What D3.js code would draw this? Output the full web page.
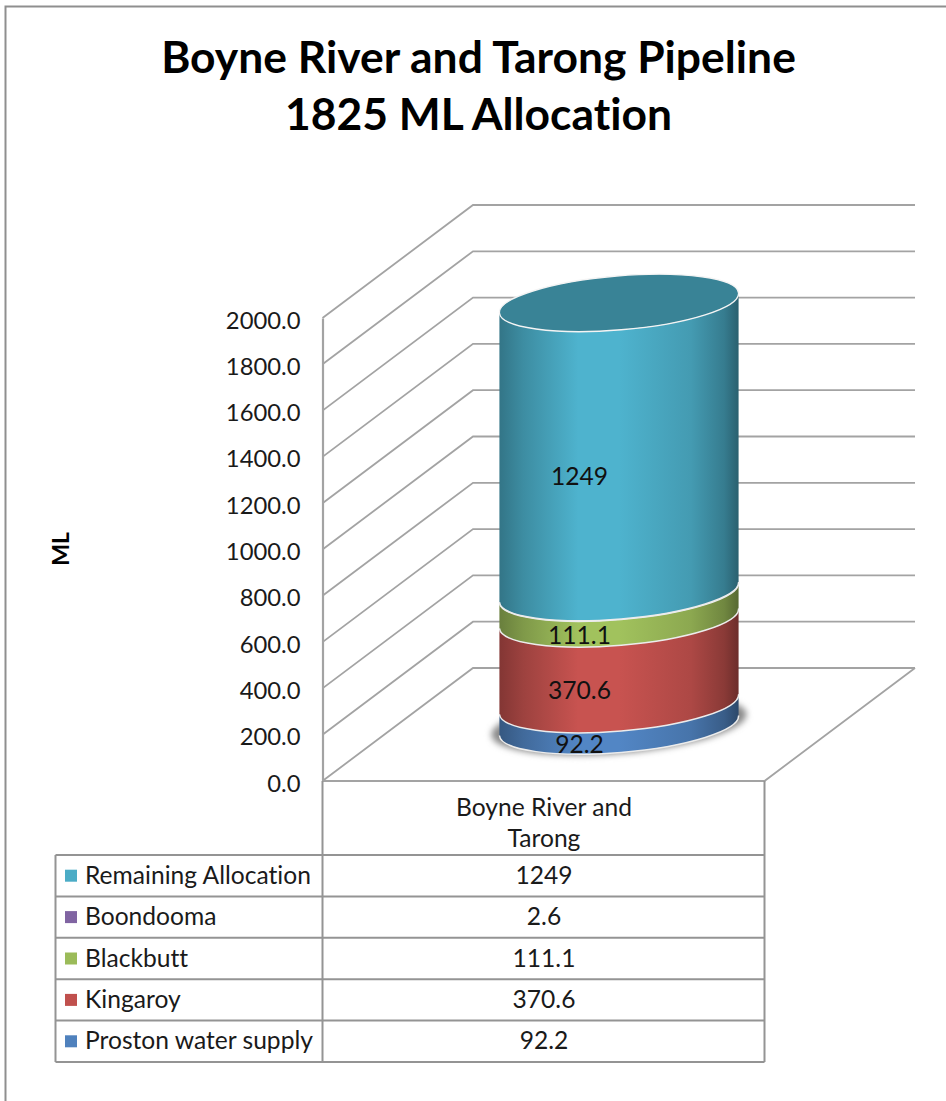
<!DOCTYPE html>
<html>
<head>
<meta charset="utf-8">
<script src="https://cdn.jsdelivr.net/npm/d3@7/dist/d3.min.js"></script>
<style>
  html, body { margin: 0; padding: 0; background: #fff; }
  text { font-family: Lato, "Open Sans", sans-serif; fill: #1a1a1a; font-variant-ligatures: none; }
</style>
</head>
<body>
<div id="vis"></div>
<script>
//DATA
const titleLines = ["Boyne River and Tarong Pipeline", "1825 ML Allocation"];
const axisTitle = "ML";
const categoryLines = ["Boyne River and", "Tarong"];
// bottom to top, same order as the stack
const seriesNames = ["Proston water supply", "Kingaroy", "Blackbutt", "Boondooma", "Remaining Allocation"];
const seriesValues = [92.2, 370.6, 111.1, 2.6, 1249];
const seriesLabels = ["92.2", "370.6", "111.1", "", "1249"];
const seriesColors = ["#4f81bd", "#c0504d", "#9bbb59", "#8064a2", "#4bacc6"];
const tableNames = seriesNames.slice().reverse();
const tableValues = ["1249", "2.6", "111.1", "370.6", "92.2"];
const tickValues = d3.range(0, 2001, 200);

const width = 946, height = 1101;
const lineColor = "#a3a3a3";
const labelSize = 24.6;

const svg = d3.select("#vis").append("svg")
  .attr("width", width)
  .attr("height", height)
  .style("display", "block");

//outer frame, cropped on the right and bottom
svg.append("path")
  .attr("d", "M5.5," + height + "V6.5H" + width)
  .attr("fill", "none")
  .attr("stroke", "#8f8f8f")
  .attr("stroke-width", 2);

//TITLE
svg.selectAll(".title").data(titleLines).enter().append("text")
  .attr("class", "title")
  .attr("x", 478.5)
  .attr("y", (d, i) => 73 + i * 57)
  .attr("text-anchor", "middle")
  .attr("font-size", 44.4)
  .attr("font-weight", 700)
  .style("fill", "#000")
  .text(d => d);

//SCALES
const front = { left: 322.5, right: 764.5 };
const depth = { x: 150.5, y: -113 };
const y = d3.scaleLinear().domain([0, 2000]).range([781, 318]);

//WALLS
const walls = svg.append("g")
  .attr("fill", "none")
  .attr("stroke", lineColor)
  .attr("stroke-width", 1.8);

walls.selectAll(".grid").data(tickValues).enter().append("path")
  .attr("class", "grid")
  .attr("d", d => "M" + front.left + "," + y(d) +
    "L" + (front.left + depth.x) + "," + (y(d) + depth.y) +
    "H" + (front.right + depth.x));

//floor edge on the right
walls.append("path")
  .attr("d", "M" + (front.right + depth.x) + "," + (y(0) + depth.y) +
    "L" + front.right + "," + y(0) + "H" + front.left);

//AXIS
const yAxis = d3.axisLeft(y)
  .tickValues(tickValues)
  .tickFormat(d3.format(".1f"))
  .tickSize(0)
  .tickPadding(22);

const axisG = svg.append("g")
  .attr("transform", "translate(" + front.left + ",0)")
  .call(yAxis);
axisG.select(".domain")
  .attr("stroke", lineColor)
  .attr("stroke-width", 2.2);
axisG.selectAll("text")
  .attr("font-size", 23.8)
  .attr("dy", "0.42em");

svg.append("text")
  .attr("transform", "translate(69,549) rotate(-90)")
  .attr("text-anchor", "middle")
  .attr("font-size", 23)
  .attr("font-weight", 700)
  .style("fill", "#000")
  .text(axisTitle);

//CYLINDER
const cyl = { cx: 619, baseY: 725.5, rx: 120, ry: 27, tilt: -4.8 };
const tiltRad = cyl.tilt * Math.PI / 180;
const dx = cyl.rx * Math.cos(tiltRad), dy = cyl.rx * Math.sin(tiltRad);
const pxPerUnit = y(0) - y(1);

function centerY(v) { return cyl.baseY - v * pxPerUnit; }
function leftPt(v) { return (cyl.cx - dx) + "," + (centerY(v) - dy); }
function rightPt(v) { return (cyl.cx + dx) + "," + (centerY(v) + dy); }
function arcTo(pt, sweep) {
  return "A" + cyl.rx + "," + cyl.ry + " " + cyl.tilt + " 0 " + sweep + " " + pt;
}

const stack = [];
seriesValues.reduce((sum, v, i) => {
  stack.push({ name: seriesNames[i], color: seriesColors[i], label: seriesLabels[i], y0: sum, y1: sum + v, id: i });
  return sum + v;
}, 0);
const total = stack[stack.length - 1].y1;

const defs = svg.append("defs");

const grads = defs.selectAll("linearGradient").data(stack).enter().append("linearGradient")
  .attr("id", d => "side" + d.id)
  .attr("x1", 0).attr("x2", 1).attr("y1", 0).attr("y2", 0);
[[0, 0.68], [0.1, 0.82], [0.33, 1.04], [0.5, 1.04], [0.8, 0.9], [0.94, 0.72], [1, 0.56]].forEach(stop => {
  grads.append("stop")
    .attr("offset", stop[0])
    .attr("stop-color", d => {
      const c = d3.rgb(d.color);
      return d3.rgb(c.r * stop[1], c.g * stop[1], c.b * stop[1]).formatHex();
    });
});

defs.append("filter").attr("id", "blur")
  .attr("x", "-10%").attr("width", "120%").attr("y", "-30%").attr("height", "160%")
  .append("feGaussianBlur").attr("stdDeviation", 3);

//shadow under the base
svg.append("ellipse")
  .attr("cx", cyl.cx)
  .attr("cy", cyl.baseY - 1)
  .attr("rx", cyl.rx + 8)
  .attr("ry", cyl.ry + 2)
  .attr("transform", "rotate(" + cyl.tilt + " " + cyl.cx + " " + cyl.baseY + ")")
  .attr("fill", "#8a8a8a")
  .attr("filter", "url(#blur)");

const segs = svg.append("g").selectAll(".seg").data(stack).enter().append("g").attr("class", "seg");

segs.append("path")
  .attr("fill", d => "url(#side" + d.id + ")")
  .attr("d", d => "M" + leftPt(d.y0) + arcTo(rightPt(d.y0), 0) +
    "L" + rightPt(d.y1) + arcTo(leftPt(d.y1), 1) + "Z");

//white rim along the lower edge of each segment
segs.append("path")
  .attr("fill", "none")
  .attr("stroke", "#ececec")
  .attr("stroke-width", 1.5)
  .attr("d", d => "M" + leftPt(d.y0) + arcTo(rightPt(d.y0), 0));

//top cap
const lastColor = d3.rgb(seriesColors[seriesColors.length - 1]);
svg.append("path")
  .attr("fill", d3.rgb(lastColor.r * 0.76, lastColor.g * 0.76, lastColor.b * 0.76).formatHex())
  .attr("stroke", "#f4f4f4")
  .attr("stroke-width", 1.4)
  .attr("d", "M" + leftPt(total) + arcTo(rightPt(total), 0) + arcTo(leftPt(total), 0) + "Z");

//data labels
svg.selectAll(".dlabel").data(stack.filter(d => d.label)).enter().append("text")
  .attr("class", "dlabel")
  .attr("x", 579.5)
  .attr("y", d => centerY((d.y0 + d.y1) / 2) + 38)
  .attr("text-anchor", "middle")
  .attr("font-size", labelSize)
  .style("fill", "#111")
  .text(d => d.label);

//DATA TABLE
const tableLeft = 55.5, tableTop = 855, rowH = 41.4;
const rowY = d3.scaleBand()
  .domain(tableNames)
  .range([tableTop, tableTop + rowH * tableNames.length]);
const tableColor = d3.scaleOrdinal().domain(seriesNames).range(seriesColors);
const valueX = (front.left + front.right) / 2 + 0.5;

const tableLines = svg.append("g")
  .attr("fill", "none")
  .attr("stroke", "#949494")
  .attr("stroke-width", 2);

tableLines.selectAll(".rowline").data(tableNames).enter().append("line")
  .attr("class", "rowline")
  .attr("x1", tableLeft).attr("x2", front.right)
  .attr("y1", d => rowY(d)).attr("y2", d => rowY(d));

const tableBottom = rowY.range()[1];
tableLines.append("path").attr("d",
  "M" + tableLeft + "," + tableBottom + "H" + front.right +
  "M" + tableLeft + "," + tableTop + "V" + tableBottom +
  "M" + front.left + "," + y(0) + "V" + tableBottom +
  "M" + front.right + "," + y(0) + "V" + tableBottom);

const rows = svg.selectAll(".row").data(tableNames).enter().append("g").attr("class", "row");

rows.append("rect")
  .attr("x", 65)
  .attr("y", d => rowY(d) + rowY.bandwidth() / 2 - 6)
  .attr("width", 12)
  .attr("height", 12)
  .attr("fill", d => tableColor(d));

rows.append("text")
  .attr("x", 85)
  .attr("y", d => rowY(d) + rowY.bandwidth() / 2 + 8)
  .attr("font-size", labelSize)
  .text(d => d);

rows.append("text")
  .attr("x", valueX)
  .attr("y", d => rowY(d) + rowY.bandwidth() / 2 + 8)
  .attr("text-anchor", "middle")
  .attr("font-size", labelSize)
  .text((d, i) => tableValues[i]);

svg.selectAll(".cat").data(categoryLines).enter().append("text")
  .attr("class", "cat")
  .attr("x", valueX)
  .attr("y", (d, i) => 816 + i * 31)
  .attr("text-anchor", "middle")
  .attr("font-size", labelSize)
  .text(d => d);
</script>
</body>
</html>
